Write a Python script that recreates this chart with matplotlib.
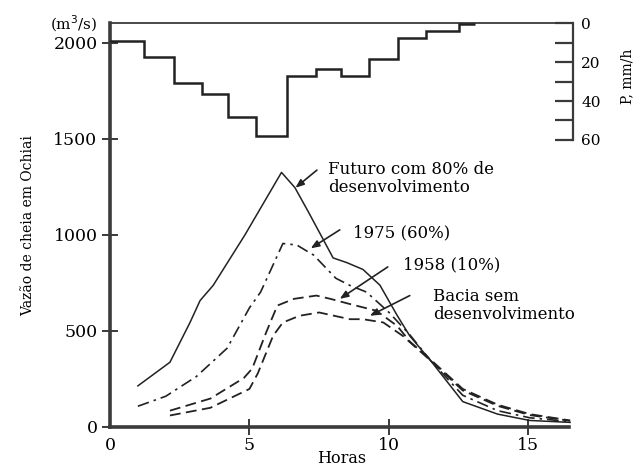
import matplotlib
matplotlib.use("Agg")
import matplotlib.pyplot as plt

plt.rcParams["font.family"] = ["DejaVu Serif"]

# hyetograph (rain intensity, mm/h) as steps between hour edges
rain_edges = [0, 1.22, 2.29, 3.30, 4.23, 5.23, 6.34, 7.38, 8.28, 9.28, 10.32, 11.33, 12.51, 13.08]
rain_mm_h = [8.9, 17.4, 30.8, 36.5, 48.0, 57.8, 27.1, 23.5, 27.1, 18.5, 7.6, 3.9, 0.4]

# flood hydrographs at Ochiai (m3/s)
h_futuro = [1.0, 2.15, 2.87, 3.23, 3.7, 4.84, 6.15, 6.63, 7.1, 7.59, 8.0, 8.5, 9.07, 9.68, 10.3,
            10.75, 11.5, 12.65, 13.9, 15.05, 16.5]
q_futuro = [214, 337, 544, 658, 737, 1000, 1325, 1246, 1123, 991, 880, 855, 820, 738, 580,
            474, 345, 132, 67, 34, 24]

h_1975 = [1.0, 2.0, 3.1, 4.2, 5.0, 5.4, 6.2, 6.7, 7.1, 7.3, 8.1, 8.6, 9.2, 10.0, 10.75, 11.5,
          12.65, 13.9, 15.05, 16.5]
q_1975 = [108, 160, 263, 410, 620, 702, 955, 947, 912, 895, 774, 737, 702, 597, 480, 345,
          165, 85, 48, 28]

h_1958 = [2.15, 3.6, 4.8, 5.1, 5.6, 6.0, 6.6, 7.4, 7.9, 8.6, 9.55, 10.3, 10.75, 11.5, 12.65,
          13.9, 15.05, 16.5]
q_1958 = [85, 148, 255, 304, 492, 632, 667, 684, 667, 640, 605, 526, 445, 350, 198, 116, 67, 34]

h_bacia = [2.15, 3.6, 5.0, 5.3, 5.85, 6.2, 6.8, 7.5, 8.6, 9.07, 9.8, 10.5, 11.5, 12.65, 13.9,
           15.05, 16.5]
q_bacia = [60, 100, 198, 279, 475, 544, 579, 596, 561, 561, 544, 474, 345, 190, 110, 62, 32]

INK = "#222222"
AXC = "#3a3a3a"

fig = plt.figure(figsize=(6.38, 4.66), dpi=100)
ax = fig.add_axes([0.1724, 0.0837, 0.7256, 0.8659])

ax.plot(h_futuro, q_futuro, color=INK, lw=1.1)
ax.plot(h_1975, q_1975, color=INK, lw=1.2, dashes=(7, 3, 1.5, 3))
ax.plot(h_1958, q_1958, color=INK, lw=1.3, dashes=(6, 3))
ax.plot(h_bacia, q_bacia, color=INK, lw=1.3, dashes=(6, 3))

ax.set_xlim(0, 16.6)
ax.set_ylim(0, 2100)
ax.set_xticks([0, 5, 10, 15])
ax.set_yticks([0, 500, 1000, 1500, 2000])
ax.tick_params(axis="both", direction="inout", length=12, width=1.4, color=AXC,
               labelsize=12.5)
ax.tick_params(axis="x", pad=1)
ax.tick_params(axis="y", pad=3)
ax.xaxis.get_major_ticks()[0].tick1line.set_visible(False)
ax.yaxis.get_major_ticks()[0].tick1line.set_visible(False)
for s in ["left", "bottom"]:
    ax.spines[s].set_linewidth(2.6)
    ax.spines[s].set_color(AXC)
ax.spines["bottom"].set_bounds(0, 16.45)
ax.spines["top"].set_linewidth(1.3)
ax.spines["top"].set_color(AXC)
ax.spines["right"].set_visible(False)

ax.set_xlabel("Horas", fontsize=11.5, labelpad=-3)
ax.set_ylabel("Vazão de cheia em Ochiai", fontsize=10, labelpad=13)
ax.text(-0.43, 2100, "(m$^3$/s)", fontsize=11, ha="right", va="center")

# rain axis on the right, inverted, only upper part
ax2 = ax.twinx()
ax2.stairs(rain_mm_h, rain_edges, baseline=None, color=INK, lw=1.8)
ax2.set_ylim(208, 0)
for s in ["left", "bottom", "top"]:
    ax2.spines[s].set_visible(False)
ax2.spines["right"].set_bounds(0, 60)
ax2.spines["right"].set_linewidth(1.6)
ax2.spines["right"].set_color(AXC)
ax2.set_yticks([0, 10, 20, 30, 40, 50, 60])
ax2.set_yticklabels(["0", "", "20", "", "40", "", "60"])
ax2.tick_params(axis="y", direction="in", length=13, width=1.6, color=AXC,
                labelsize=11, pad=6)
ax2.text(1.118, 0.87, "P, mm/h", transform=ax2.transAxes, rotation=90,
         fontsize=10, ha="center", va="center")

arrow = dict(arrowstyle="-|>,head_length=0.5,head_width=0.2", color=INK, lw=1.2,
             shrinkA=0, shrinkB=0)
ax.annotate("", xy=(6.65, 1245), xytext=(7.42, 1337), arrowprops=arrow)
ax.annotate("", xy=(7.2, 930), xytext=(8.24, 1026), arrowprops=arrow)
ax.annotate("", xy=(8.24, 667), xytext=(9.96, 833), arrowprops=arrow)
ax.annotate("", xy=(9.32, 579), xytext=(10.75, 684), arrowprops=arrow)

ax.text(7.81, 1295, "Futuro com 80% de\ndesenvolvimento", fontsize=12, ha="left",
        va="center", linespacing=1.1)
ax.text(8.71, 1010, "1975 (60%)", fontsize=12, ha="left", va="center")
ax.text(10.5, 842, "1958 (10%)", fontsize=12, ha="left", va="center")
ax.text(11.58, 632, "Bacia sem\ndesenvolvimento", fontsize=12, ha="left",
        va="center", linespacing=1.1)

fig.savefig("out.png", dpi=100)
